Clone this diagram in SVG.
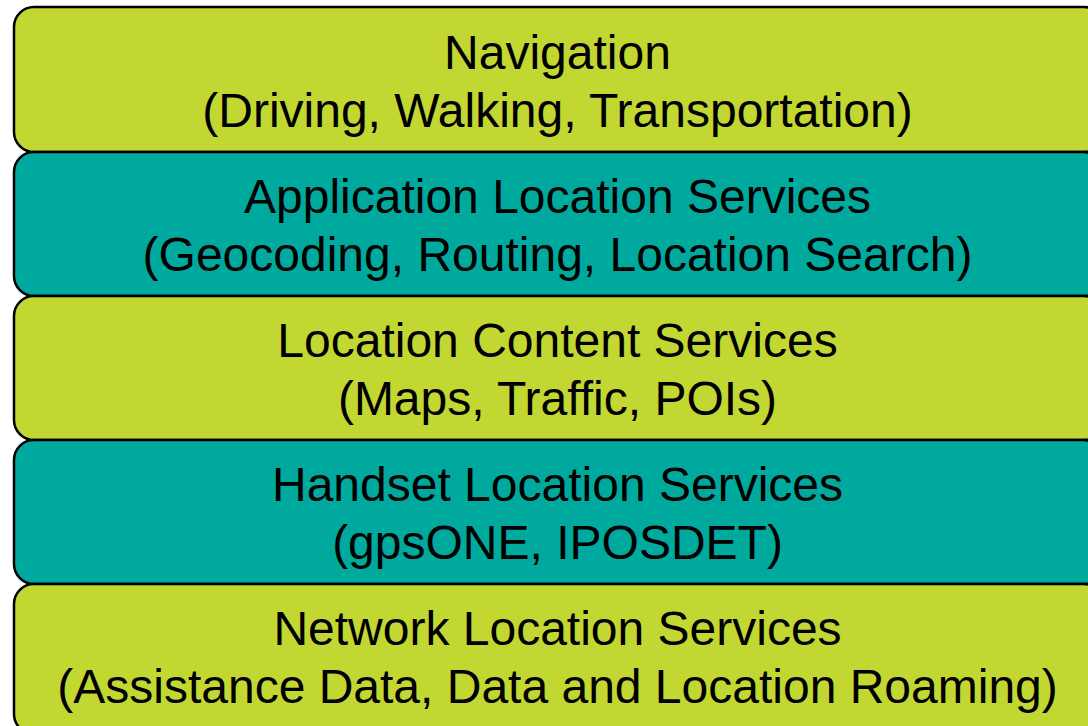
<svg xmlns="http://www.w3.org/2000/svg" width="1088" height="726" viewBox="0 0 1088 726">
<style>
.box{stroke:#000;stroke-width:2.5}
.lime{fill:#C2D731}
.teal{fill:#00A99D}
text{font-family:"Liberation Sans",Arial,sans-serif;font-size:48px;fill:#000;text-anchor:middle}
</style>
<rect width="1088" height="726" fill="#fff"/>
<g id="layer-navigation">
<rect class="box lime" x="14" y="7" width="1090" height="145" rx="20"/>
<text x="557.5" y="69">Navigation</text>
<text x="557.5" y="127">(Driving, Walking, Transportation)</text>
</g>
<g id="layer-application">
<rect class="box teal" x="14" y="152" width="1090" height="144" rx="20"/>
<text x="557.5" y="213">Application Location Services</text>
<text x="557.5" y="271">(Geocoding, Routing, Location Search)</text>
</g>
<g id="layer-content">
<rect class="box lime" x="14" y="296" width="1090" height="144" rx="20"/>
<text x="557.5" y="357">Location Content Services</text>
<text x="557.5" y="415">(Maps, Traffic, POIs)</text>
</g>
<g id="layer-handset">
<rect class="box teal" x="14" y="440" width="1090" height="144" rx="20"/>
<text x="557.5" y="501">Handset Location Services</text>
<text x="557.5" y="559">(gpsONE, IPOSDET)</text>
</g>
<g id="layer-network">
<rect class="box lime" x="14" y="584" width="1090" height="150" rx="20"/>
<text x="557.5" y="645">Network Location Services</text>
<text x="557.5" y="703">(Assistance Data, Data and Location Roaming)</text>
</g>
<g id="connectors"></g>
</svg>
